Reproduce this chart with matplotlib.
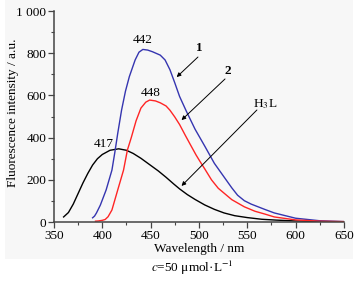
import matplotlib
matplotlib.use("Agg")
import matplotlib.pyplot as plt
from matplotlib.ticker import MultipleLocator, FuncFormatter
from matplotlib.patches import Rectangle

plt.rcParams["font.family"] = ["Liberation Serif", "DejaVu Serif"]
plt.rcParams["mathtext.fontset"] = "stix"

# ── data (wavelength nm, intensity a.u.) ──
wl_h3l = [360, 365, 370, 375, 380, 385, 390, 395, 400, 408, 417, 425, 432,
          440, 449, 458, 466, 474, 480, 488, 496, 506, 516, 526, 537, 550,
          565, 580, 600, 625, 650]
int_h3l = [24, 45, 85, 135, 185, 230, 270, 300, 320, 340, 347, 340, 325,
           302, 272, 242, 212, 180, 157, 130, 107, 81, 60, 43, 30, 21,
           13, 9, 5, 2, 1]

wl_1 = [390, 392, 394, 398, 404, 410, 413, 416, 420, 424, 428, 434, 438,
        442, 447, 452, 460, 465, 470, 475, 480, 487, 496, 506, 516, 527,
        534, 540, 547, 554, 568, 578, 600, 625, 650]
int_1 = [20, 28, 43, 80, 152, 246, 330, 420, 531, 620, 689, 768, 805,
         818, 815, 807, 791, 768, 722, 660, 595, 525, 440, 360, 278, 207,
         162, 127, 101, 85, 60, 43, 18, 6, 2]

wl_2 = [393, 396, 400, 403, 406, 410, 416, 422, 426, 430, 435, 440, 445,
        449, 455, 460, 466, 470, 475, 480, 486, 491, 497, 501, 506, 513,
        520, 534, 547, 558, 568, 578, 600, 625, 650]
int_2 = [4, 5, 8, 12, 25, 57, 152, 246, 341, 400, 480, 540, 568,
         578, 574, 565, 550, 530, 498, 462, 410, 368, 318, 288, 252, 200,
         160, 106, 72, 51, 38, 24, 10, 4, 2]

peak_labels = ["442", "448", "417"]
peak_pos = [(442, 862), (450, 611), (402, 368)]

# ── figure ──
fig = plt.figure(figsize=(3.62, 2.83), dpi=100)
fig.patch.set_facecolor("white")
fig.patches.append(Rectangle((0.014, 0.085), 0.962, 0.915, transform=fig.transFigure,
                             facecolor="#f7f7f7", edgecolor="none", zorder=-10))

ax = fig.add_axes([0.149, 0.2155, 0.801, 0.7455])
ax.set_facecolor("none")

ax.plot(wl_h3l, int_h3l, color="black", lw=1.0)
ax.plot(wl_1, int_1, color="#3535b0", lw=1.0)
ax.plot(wl_2, int_2, color="#ff2525", lw=1.0)

ax.set_xlim(350, 650)
ax.set_ylim(0, 1000)
ax.xaxis.set_major_locator(MultipleLocator(50))
ax.xaxis.set_minor_locator(MultipleLocator(25))
ax.yaxis.set_major_locator(MultipleLocator(200))
ax.yaxis.set_minor_locator(MultipleLocator(100))
ax.yaxis.set_major_formatter(FuncFormatter(lambda v, p: "1 000" if v >= 1000 else f"{v:.0f}"))

for side in ("top", "right"):
    ax.spines[side].set_visible(False)
for side in ("left", "bottom"):
    ax.spines[side].set_color("#444444")
    ax.spines[side].set_linewidth(1.1)

ax.tick_params(which="major", direction="out", length=4, width=0.9, colors="#444444",
               labelsize=9.5, labelcolor="black", pad=1.5)
ax.tick_params(which="minor", direction="out", length=2.5, width=0.8, colors="#444444")

ax.set_xlabel("Wavelength / nm", fontsize=9.5, labelpad=1)
ax.set_ylabel("Fluorescence intensity / a.u.", fontsize=9.5)
ax.yaxis.set_label_coords(-0.12, 0.52)

for txt, (x, y) in zip(peak_labels, peak_pos):
    ax.text(x, y, txt, fontsize=9.5, ha="center", va="center")

# curve labels with arrows
arrow_kw = dict(arrowstyle="-|>", color="black", lw=0.7, mutation_scale=6,
                shrinkA=0, shrinkB=0)
ax.annotate("", xy=(477, 687), xytext=(499, 782), arrowprops=arrow_kw)
ax.annotate("", xy=(482, 483), xytext=(527, 678), arrowprops=arrow_kw)
ax.annotate("", xy=(482, 171), xytext=(560, 531), arrowprops=arrow_kw)
ax.text(500, 826, "1", fontsize=9.5, fontweight="bold", ha="center", va="center")
ax.text(530, 716, "2", fontsize=9.5, fontweight="bold", ha="center", va="center")
ax.text(569, 559, "H$_3$L", fontsize=9.5, ha="center", va="center")

fig.text(0.53, 0.052, r"$c$=50 μmol·L$^{-1}$", fontsize=9.5, ha="center", va="center")

fig.savefig("out.png", dpi=100)
